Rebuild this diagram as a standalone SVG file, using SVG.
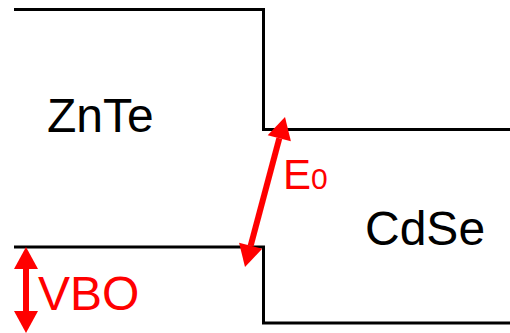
<svg xmlns="http://www.w3.org/2000/svg" width="510" height="333" viewBox="0 0 510 333">
<style>
.band{fill:none;stroke:#000;stroke-width:3}
.lbl{font-family:"Liberation Sans",Arial,sans-serif;font-size:48px;fill:#000}
.red{fill:#f00}
.redt{font-family:"Liberation Sans",Arial,sans-serif;fill:#f00}
</style>
<rect width="510" height="333" fill="#fff"/>
<g id="bands">
<path id="conduction" class="band" d="M14 9.5H263.5V129.5H510"/>
<path id="valence" class="band" d="M14 247H263.5V323H510"/>
</g>
<g id="ZnTe"><text class="lbl" x="47" y="132">ZnTe</text></g>
<g id="CdSe"><text class="lbl" x="365" y="245">CdSe</text></g>
<g id="connectors">
<g id="E0arrow" class="red">
<line x1="279.33" y1="138.26" x2="250.67" y2="245.74" stroke="#f00" stroke-width="6"/>
<polygon points="285,117 290.9,141.35 267.7,135.17"/>
<polygon points="245,267 262.26,248.83 239.07,242.65"/>
</g>
<g id="VBOarrow" class="red">
<rect x="23" y="268" width="6" height="44"/>
<polygon points="26,247 14,269 38,269"/>
<polygon points="26,333 14,311 38,311"/>
</g>
</g>
<g id="E0label"><text class="redt" x="283" y="189" font-size="42">E<tspan font-size="30">0</tspan></text></g>
<g id="VBOlabel"><text class="redt" x="38" y="310" font-size="48">VBO</text></g>
</svg>
